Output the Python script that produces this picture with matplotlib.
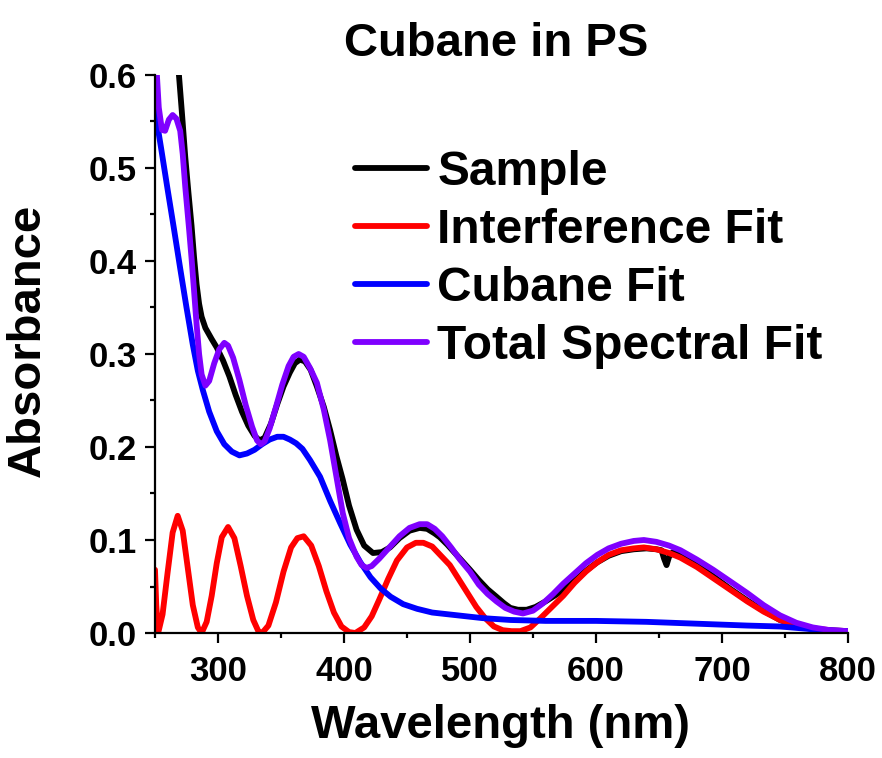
import matplotlib
matplotlib.use("Agg")
import matplotlib.pyplot as plt
from matplotlib.ticker import MultipleLocator, FormatStrFormatter

plt.rcParams['font.family'] = ['Liberation Sans', 'DejaVu Sans']
plt.rcParams['font.weight'] = 'bold'

# ---- data ----
sample_wl = [267, 269, 271.5, 274, 276.5, 279, 281, 283, 285, 287, 290, 295, 299, 304, 309, 314, 319, 324,
             329, 333, 337, 342, 347, 352, 357, 361, 365, 369, 373.5, 378.5, 384, 389, 394, 399, 404, 410,
             416, 423, 430, 436.5, 444, 452, 460, 466, 472, 476, 482, 488, 494, 500, 507, 514, 521, 527,
             532, 538, 545, 552, 560, 567, 574, 583, 592, 601, 610, 620, 630, 640, 648, 652, 654, 656,
             658, 661, 667, 680, 693, 706, 720, 733, 746, 759, 772, 786, 800]
sample_abs = [0.63, 0.60, 0.557, 0.512, 0.474, 0.438, 0.404, 0.375, 0.354, 0.340, 0.328, 0.316, 0.307, 0.293,
              0.276, 0.256, 0.238, 0.223, 0.212, 0.207, 0.210, 0.225, 0.246, 0.265, 0.280, 0.290, 0.294,
              0.292, 0.283, 0.265, 0.243, 0.218, 0.190, 0.165, 0.137, 0.111, 0.094, 0.086, 0.087, 0.092,
              0.102, 0.110, 0.113, 0.112, 0.107, 0.103, 0.095, 0.086, 0.077, 0.068, 0.057, 0.047, 0.039,
              0.032, 0.027, 0.025, 0.025, 0.028, 0.034, 0.040, 0.046, 0.056, 0.067, 0.076, 0.083, 0.088,
              0.090, 0.091, 0.090, 0.089, 0.080, 0.073, 0.082, 0.087, 0.084, 0.073, 0.061, 0.048, 0.035,
              0.024, 0.014, 0.008, 0.004, 0.002, 0.001]

interf_wl = [250, 251, 252.5, 256, 260, 264, 268, 272, 276, 280, 284, 287,
             291, 295, 299, 303, 308, 313, 318, 323, 328, 332, 335,
             340, 346, 352, 358, 363, 368, 374, 380, 386, 392, 398, 404, 409,
             416, 422, 428, 435, 442, 450, 457, 463, 470, 477, 484, 491, 498, 505, 512, 519, 526, 533, 540,
             548, 556, 565, 574, 583, 592, 601, 610, 620, 630, 638, 648, 658, 667, 680, 693, 706, 720,
             733, 746, 759, 772, 786, 800]
interf_abs = [0.068, 0.03, 0.0, 0.02, 0.065, 0.108, 0.126, 0.11, 0.07, 0.03, 0.006, 0.0,
              0.012, 0.04, 0.075, 0.103, 0.114, 0.102, 0.072, 0.04, 0.014, 0.002, 0.0,
              0.008, 0.033, 0.066, 0.092, 0.102, 0.104, 0.094, 0.072, 0.045, 0.022, 0.007, 0.001, 0.0,
              0.006, 0.018, 0.036, 0.058, 0.078, 0.092, 0.097, 0.097, 0.093, 0.083, 0.073, 0.058, 0.043,
              0.028, 0.016, 0.007, 0.003, 0.002, 0.002,
              0.006, 0.016, 0.028, 0.040, 0.054, 0.066, 0.076, 0.084, 0.089, 0.091, 0.092, 0.090, 0.086,
              0.081, 0.071, 0.059, 0.047, 0.034, 0.023, 0.014, 0.008, 0.005, 0.003, 0.002]

cubane_wl = [250, 255, 260, 265, 270, 275, 280, 284, 288, 293, 299, 305, 311, 317, 323, 329, 335, 341, 347,
             352, 357, 362, 367, 373, 381, 389, 397, 405, 413, 421, 429, 437, 447, 458, 470, 490, 510, 532,
             560, 600, 640, 680, 720, 746, 772, 800]
cubane_abs = [0.562, 0.52, 0.477, 0.435, 0.392, 0.350, 0.310, 0.282, 0.261, 0.238, 0.217, 0.203, 0.195,
              0.191, 0.193, 0.197, 0.203, 0.208, 0.211, 0.211, 0.208, 0.204, 0.198, 0.186, 0.168, 0.142,
              0.118, 0.095, 0.076, 0.060, 0.048, 0.039, 0.031, 0.026, 0.022, 0.019, 0.016, 0.014, 0.013,
              0.013, 0.012, 0.010, 0.008, 0.007, 0.004, 0.002]

total_wl = [250, 251.5, 253, 255.5, 258, 261, 264, 267, 270, 272, 274, 277, 279, 281, 283, 285, 287, 290,
            293, 297, 301, 305, 308, 312, 317, 322, 327, 331, 334, 337, 341, 346, 351, 356, 360, 364, 368,
            373, 378.5, 384, 389, 394, 399, 404, 410, 414, 418, 422, 428, 436, 444, 452, 460, 466, 472, 478,
            485, 492, 500, 507, 514, 521, 528, 535, 542, 550, 558, 566, 574, 583, 592, 601, 610, 620, 630,
            638, 648, 658, 667, 680, 693, 706, 720, 733, 746, 759, 772, 786, 800]
total_abs = [0.62, 0.60, 0.565, 0.541, 0.540, 0.552, 0.557, 0.553, 0.540, 0.515, 0.480, 0.435, 0.403, 0.368,
             0.332, 0.300, 0.278, 0.266, 0.271, 0.290, 0.305, 0.312, 0.309, 0.296, 0.272, 0.245, 0.222,
             0.207, 0.203, 0.206, 0.220, 0.243, 0.267, 0.287, 0.297, 0.300, 0.297, 0.285, 0.269, 0.240,
             0.207, 0.168, 0.129, 0.102, 0.082, 0.073, 0.070, 0.072, 0.080, 0.092, 0.104, 0.113, 0.117,
             0.117, 0.112, 0.104, 0.092, 0.079, 0.066, 0.052, 0.042, 0.034, 0.027, 0.023, 0.021, 0.024,
             0.032, 0.042, 0.053, 0.064, 0.075, 0.084, 0.091, 0.096, 0.099, 0.100, 0.098, 0.094, 0.089,
             0.079, 0.068, 0.056, 0.043, 0.030, 0.019, 0.011, 0.006, 0.003, 0.002]

labels = ["Sample", "Interference Fit", "Cubane Fit", "Total Spectral Fit"]
colors = ["#000000", "#ff0000", "#0000ff", "#7f00ff"]

fig = plt.figure(figsize=(8.82, 7.58), dpi=100)
ax = fig.add_axes([155/882, 1-633/758, 693/882, 558/758])

lw = 4.2
for wl, ab, lab, c in zip([sample_wl, interf_wl, cubane_wl, total_wl],
                          [sample_abs, interf_abs, cubane_abs, total_abs], labels, colors):
    ax.plot(wl, ab, color=c, lw=lw, label=lab, solid_capstyle='round', solid_joinstyle='round')

ax.set_xlim(250, 800)
ax.set_ylim(0, 0.6)
ax.xaxis.set_major_locator(MultipleLocator(100))
ax.xaxis.set_minor_locator(MultipleLocator(50))
ax.yaxis.set_major_locator(MultipleLocator(0.1))
ax.yaxis.set_minor_locator(MultipleLocator(0.05))
ax.yaxis.set_major_formatter(FormatStrFormatter('%.1f'))
for s in ['top', 'right']:
    ax.spines[s].set_visible(False)
for s in ['left', 'bottom']:
    ax.spines[s].set_linewidth(1.6)
ax.tick_params(which='major', direction='out', length=7, width=1.6, labelsize=25)
ax.tick_params(which='minor', direction='out', length=3.5, width=1.6)
ax.tick_params(axis='x', which='major', pad=9)
ax.tick_params(axis='y', which='major', pad=6)
for t in ax.get_xticklabels() + ax.get_yticklabels():
    t.set_fontweight('bold')

ax.set_xlabel("Wavelength (nm)", fontsize=34, fontweight='bold')
ax.set_ylabel("Absorbance", fontsize=34, fontweight='bold')
ax.xaxis.set_label_coords(0.498, -0.128)
ax.yaxis.set_label_coords(-0.1515, 0.525)
ax.set_title("Cubane in PS", fontsize=34, fontweight='bold', pad=14, x=0.493)

leg = ax.legend(loc='upper left', bbox_to_anchor=(0.2886, 0.866), frameon=False, fontsize=34.5,
                handlelength=1.5, handletextpad=0.22, labelspacing=0.27, borderpad=0, borderaxespad=0)
for t in leg.get_texts():
    t.set_fontweight('bold')

fig.savefig("out.png", dpi=100)
